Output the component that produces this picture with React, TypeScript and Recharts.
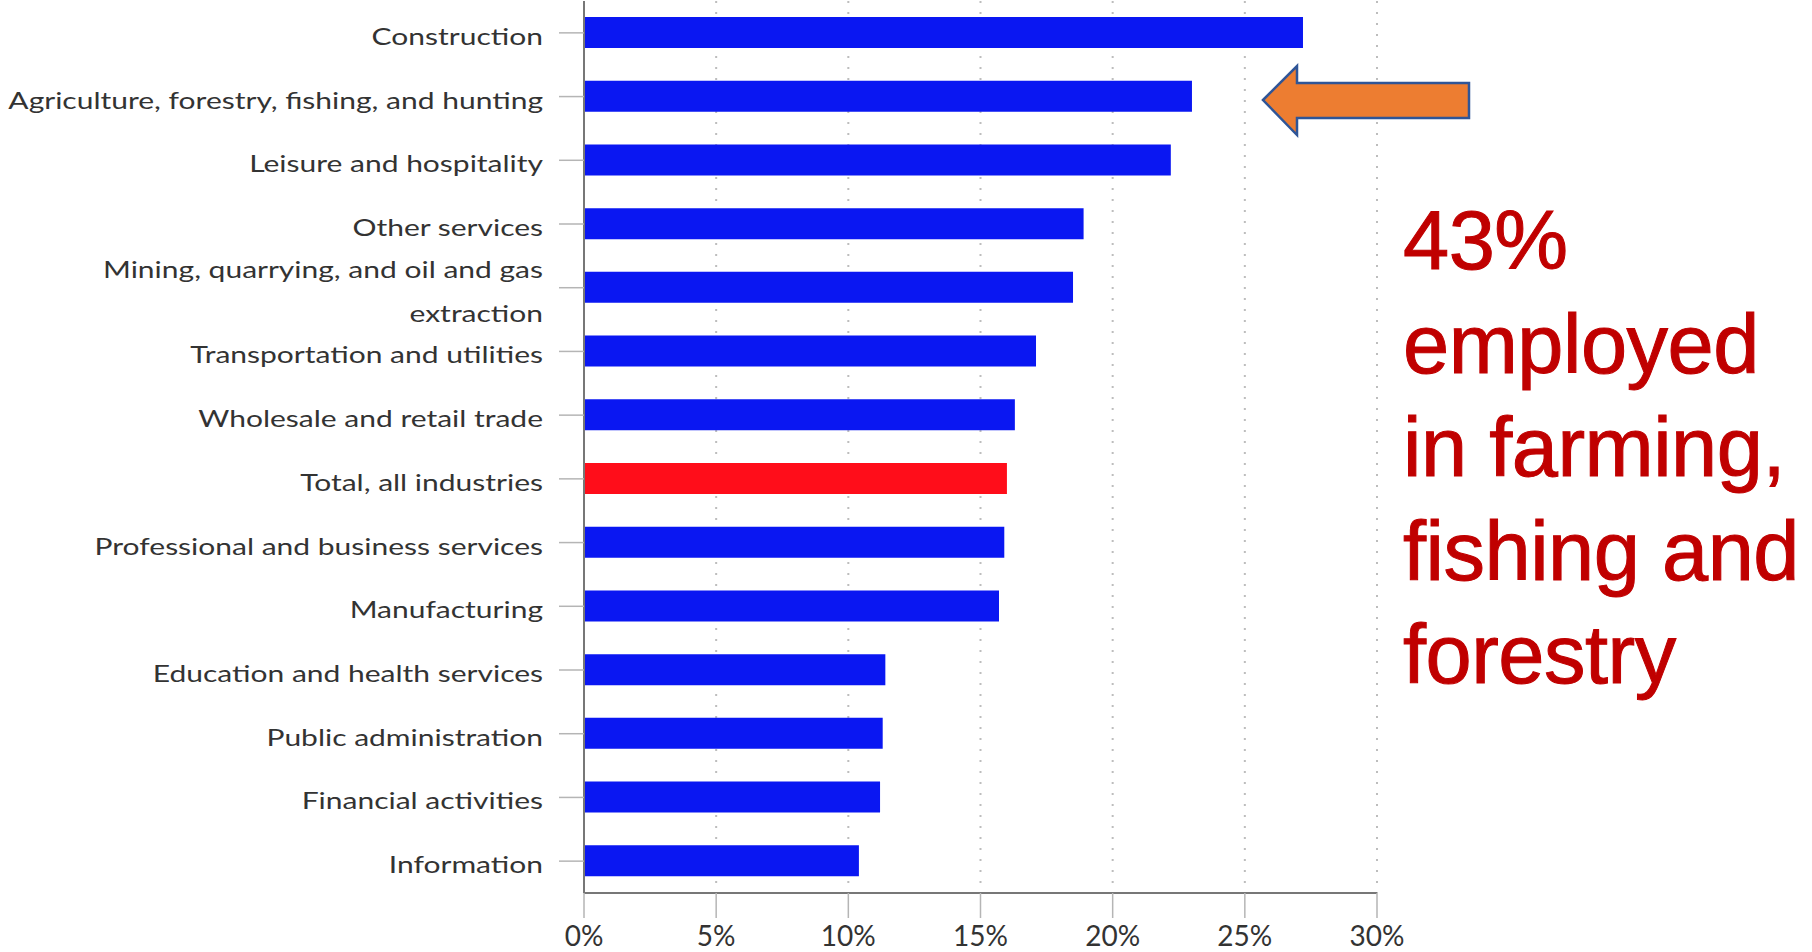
import { BarChart, Bar, XAxis, YAxis, CartesianGrid, Cell } from 'recharts';

const categories = [
  'Construction',
  'Agriculture, forestry, fishing, and hunting',
  'Leisure and hospitality',
  'Other services',
  'Mining, quarrying, and oil and gas extraction',
  'Transportation and utilities',
  'Wholesale and retail trade',
  'Total, all industries',
  'Professional and business services',
  'Manufacturing',
  'Education and health services',
  'Public administration',
  'Financial activities',
  'Information'
];

const shares = [27.2, 23.0, 22.2, 18.9, 18.5, 17.1, 16.3, 16.0, 15.9, 15.7, 11.4, 11.3, 11.2, 10.4];

const xTicks = [0, 5, 10, 15, 20, 25, 30];

const highlight = 'Total, all industries';

const noteLines = ['43%', 'employed', 'in farming,', 'fishing and', 'forestry'];

const data = categories.map((name, i) => ({ name, value: shares[i] }));

const COLORS = {
  bar: '#0A17F2',
  total: '#FF0D1A',
  label: '#333333',
  axis: '#777777',
  tick: '#b5b5b5',
  grid: '#bdbdbd',
  note: '#C00000',
  arrowFill: '#ED7D31',
  arrowStroke: '#2F5597'
};

const labelFont = 'Lato, "Open Sans", sans-serif';

// the long mining label is broken onto two lines like the original
const wrapLabel = (label: string): string[] => {
  if (label === 'Mining, quarrying, and oil and gas extraction') {
    return ['Mining, quarrying, and oil and gas', 'extraction'];
  }
  return [label];
};

function CategoryTick(props: any) {
  const { x, y, payload } = props;
  const lines = wrapLabel(payload.value);
  const offsets = lines.length > 1 ? [-10, 34] : [12];
  return (
    <g transform={`translate(${x},${y}) scale(1.25,1)`}>
      <text textAnchor="end" fill={COLORS.label} fontSize={24} fontFamily={labelFont}>
        {lines.map((line, i) => (
          <tspan key={i} x={0} y={offsets[i]}>
            {line}
          </tspan>
        ))}
      </text>
    </g>
  );
}

export default function App() {
  return (
    <div style={{ position: 'absolute', left: 0, top: 0, width: 1812, height: 952, background: '#fff' }}>
      <BarChart
        layout="vertical"
        width={1812}
        height={952}
        data={data}
        margin={{ top: 1, right: 435, bottom: 0, left: 0 }}
      >
        <CartesianGrid
          horizontal={false}
          stroke={COLORS.grid}
          strokeDasharray="2 9"
          strokeWidth={2}
        />
        <XAxis
          type="number"
          domain={[0, 30]}
          ticks={xTicks}
          height={59}
          tickFormatter={(v: number) => `${v}%`}
          axisLine={{ stroke: COLORS.axis, strokeWidth: 2 }}
          tickLine={{ stroke: COLORS.tick, strokeWidth: 1.5 }}
          tickSize={25}
          tickMargin={8}
          tick={{ fill: COLORS.label, fontSize: 28, fontFamily: labelFont }}
        />
        <YAxis
          type="category"
          dataKey="name"
          width={584}
          interval={0}
          axisLine={{ stroke: COLORS.axis, strokeWidth: 2 }}
          tickLine={{ stroke: COLORS.tick, strokeWidth: 1.5 }}
          tickSize={25}
          tickMargin={16}
          tick={<CategoryTick />}
        />
        <Bar dataKey="value" barSize={31} isAnimationActive={false}>
          {data.map((d) => (
            <Cell key={d.name} fill={d.name === highlight ? COLORS.total : COLORS.bar} />
          ))}
        </Bar>
      </BarChart>

      <svg
        width={1812}
        height={952}
        style={{ position: 'absolute', left: 0, top: 0, pointerEvents: 'none' }}
      >
        <polygon
          points="1263,100 1297,66 1297,83 1469,83 1469,118 1297,118 1297,135"
          fill={COLORS.arrowFill}
          stroke={COLORS.arrowStroke}
          strokeWidth={2.5}
          strokeLinejoin="miter"
        />
      </svg>

      <div
        style={{
          position: 'absolute',
          left: 1403,
          top: 189,
          color: COLORS.note,
          fontFamily: '"Liberation Sans", Arial, sans-serif',
          fontSize: 83,
          lineHeight: '103.5px',
          letterSpacing: -0.5,
          WebkitTextStroke: '1px #C00000',
          whiteSpace: 'nowrap'
        }}
      >
        {noteLines.map((line) => (
          <div key={line}>{line}</div>
        ))}
      </div>
    </div>
  );
}
